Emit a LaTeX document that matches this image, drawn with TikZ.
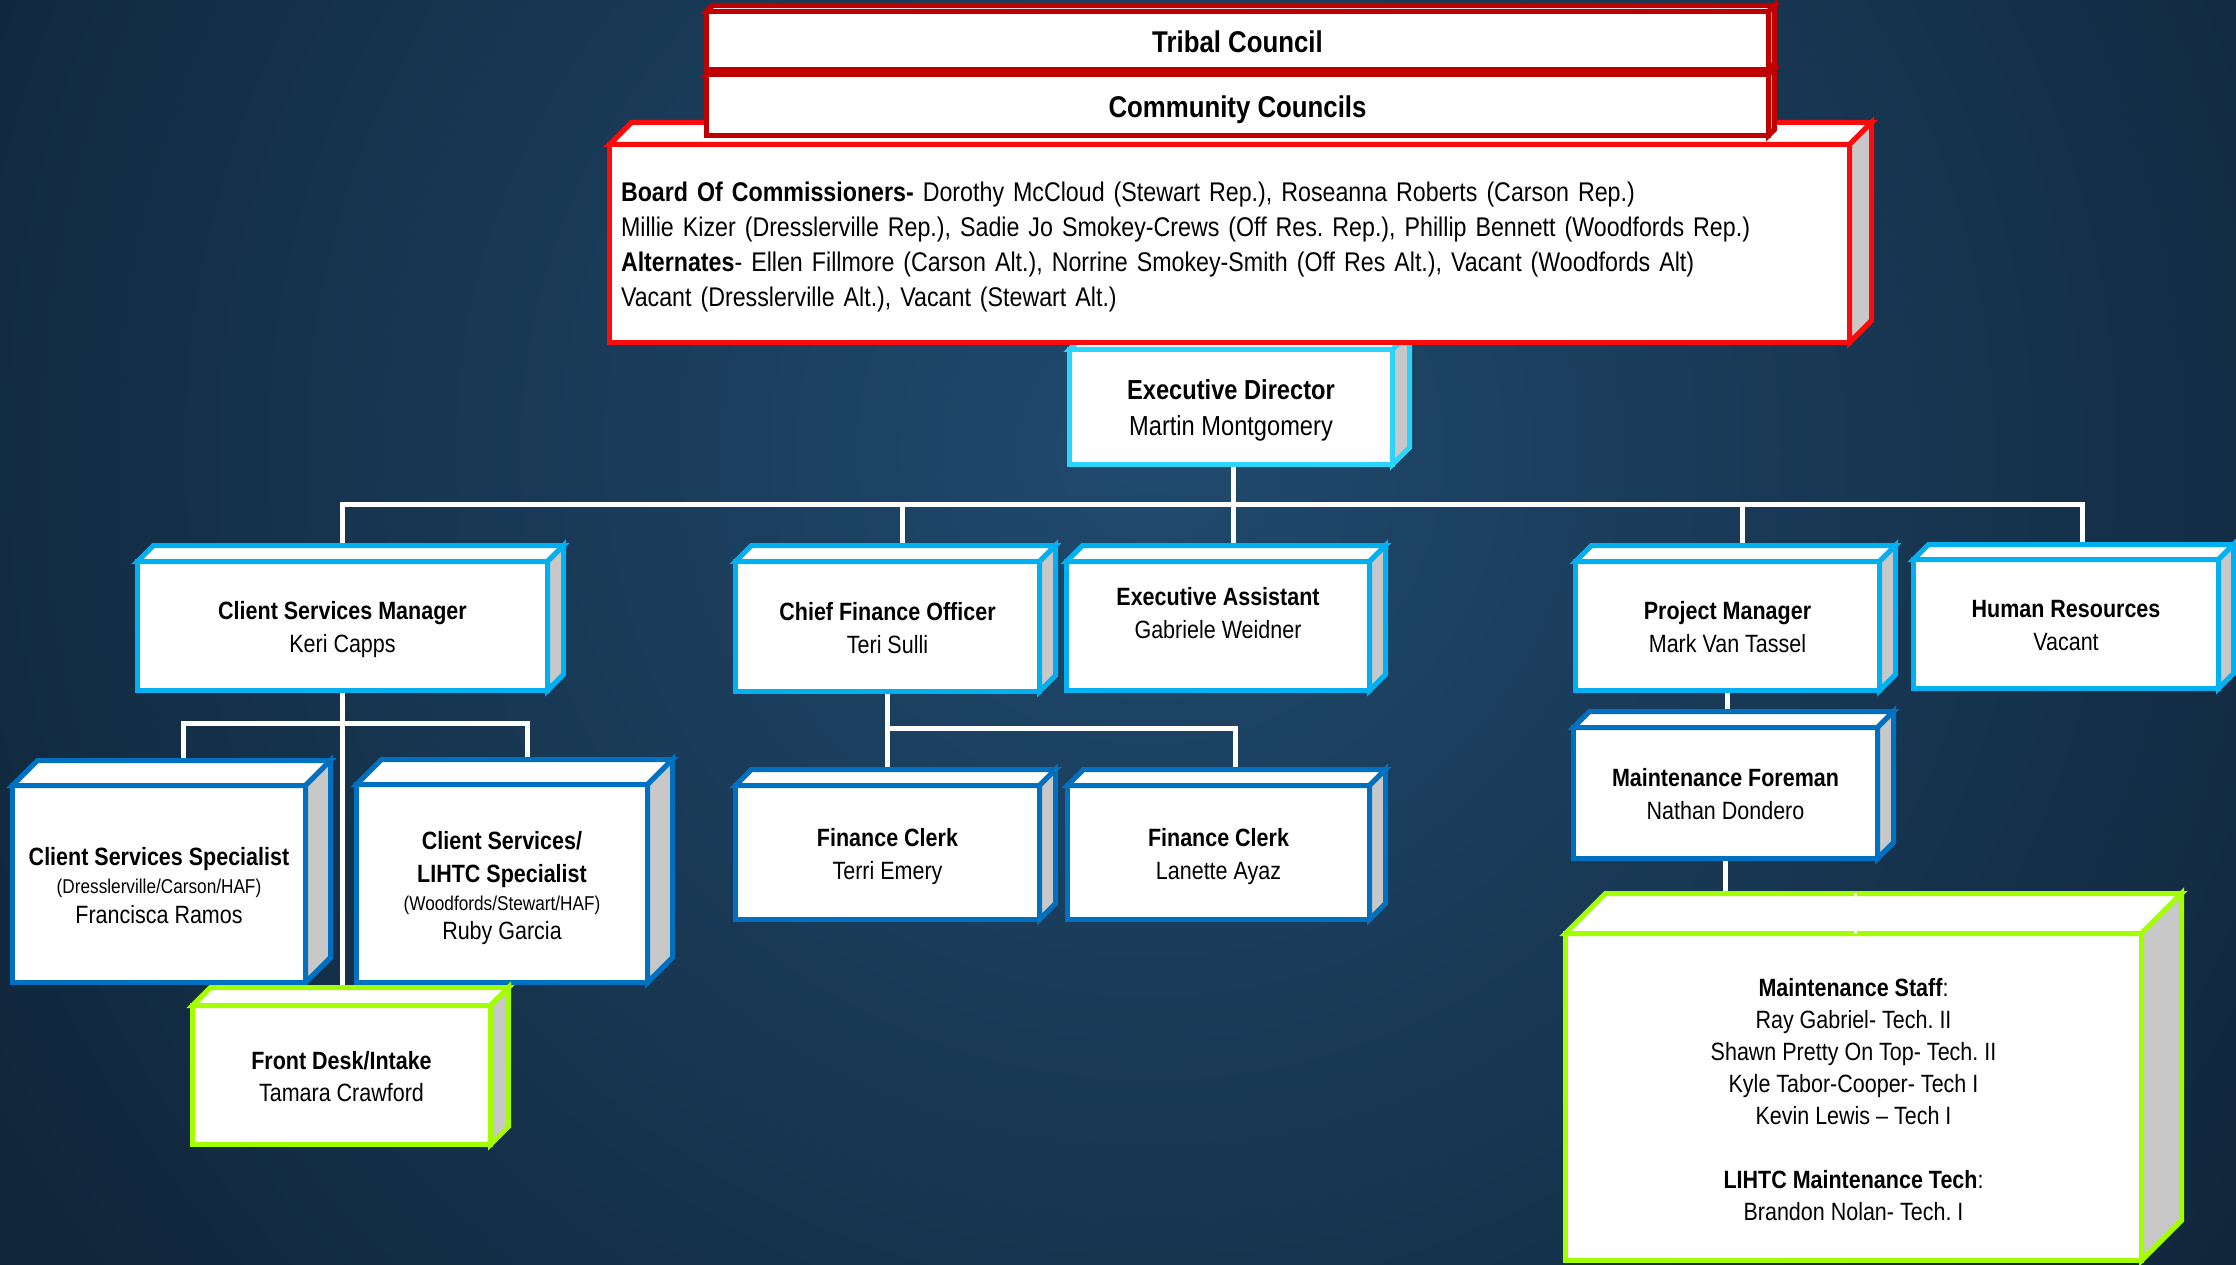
\documentclass[tikz,border=0pt]{standalone}
\usepackage{fontspec}
\setmainfont{Liberation Sans}[FakeStretch=0.86]
\usetikzlibrary{calc}
\definecolor{ltcyan}{RGB}{45,212,250}
\definecolor{cyb}{RGB}{0,176,240}
\definecolor{dkb}{RGB}{0,112,192}
\definecolor{limeg}{RGB}{163,255,0}
\definecolor{redb}{RGB}{250,12,12}
\definecolor{dkred}{RGB}{192,0,0}
\definecolor{sidegray}{RGB}{200,200,200}
\definecolor{bgin}{RGB}{32,74,110}
\definecolor{bgout}{RGB}{7,18,30}
\pgfdeclarelayer{bg}
\pgfdeclarelayer{lines}
\pgfsetlayers{bg,lines,main}
\tikzset{
  cubefront/.style={draw=#1, fill=white, line width=5pt, inner sep=0pt, outer sep=0pt,
    align=center, text=black, font=\fontsize{25}{33}\selectfont},
  cubetop/.style={draw=#1, fill=white, line width=5pt},
  cubeside/.style={draw=#1, fill=sidegray, line width=5pt},
  link/.style={draw=white, line width=5pt},
  oneline/.style={text height=24.5pt, text depth=0pt, font=\fontsize{30}{36}\selectfont\bfseries},
}
\newcommand\tstrut[1]{\rule{0pt}{#1pt}}
% #1 colour, #2 name, #3 x1, #4 y1, #5 x2, #6 y2, #7 depth, #8 extra options, #9 text
\newcommand\orgcube[9]{%
  \node[cubefront=#1, minimum width=#5pt-#3pt-5pt, minimum height=#6pt-#4pt-5pt, #8]
    (#2) at ({(#3+#5)/2},{(#4+#6)/2}) {#9};
  \filldraw[cubetop=#1] (#2.north west) -- ++(#7,-#7) -- ($(#2.north east)+(#7,-#7)$) -- (#2.north east) -- cycle;
  \filldraw[cubeside=#1] (#2.north east) -- ++(#7,-#7) -- ($(#2.south east)+(#7,-#7)$) -- (#2.south east) -- cycle;
}
\begin{document}
\frenchspacing
\begin{tikzpicture}[x=1pt,y=-1pt]
\useasboundingbox (0,0) rectangle (2236,1265);
\begin{pgfonlayer}{bg}
  \begin{scope}
    \clip (0,0) rectangle (2236,1265);
    \shade[inner color=bgin, outer color=bgout] (1150,450) circle (2100);
  \end{scope}
\end{pgfonlayer}

% executive level
\orgcube{ltcyan}{ed}{1067}{347}{1395}{467}{17}{font=\fontsize{27.5}{35.5}\selectfont}{\tstrut{27}\textbf{Executive Director}\\Martin Montgomery}
\orgcube{redb}{board}{607}{142}{1852}{345}{22}{font=\fontsize{27}{35}\selectfont, align=left, text width=1217pt, inner xsep=11.5pt}{%
\tstrut{27}\textbf{Board Of Commissioners-} Dorothy McCloud (Stewart Rep.), Roseanna Roberts (Carson Rep.)\\
Millie Kizer (Dresslerville Rep.), Sadie Jo Smokey-Crews (Off Res. Rep.), Phillip Bennett (Woodfords Rep.)\\
\textbf{Alternates}- Ellen Fillmore (Carson Alt.), Norrine Smokey-Smith (Off Res Alt.), Vacant (Woodfords Alt)\\
Vacant (Dresslerville Alt.), Vacant (Stewart Alt.)}
\orgcube{dkred}{cc}{704}{72}{1771}{138}{6}{oneline}{Community Councils}
\orgcube{dkred}{tribal}{704}{9}{1771}{72}{6}{oneline}{Tribal Council}

% second level
\orgcube{cyb}{csm}{135}{559}{550}{693}{16}{}{\tstrut{26}\textbf{Client Services Manager}\\Keri Capps}
\orgcube{cyb}{cfo}{733}{559}{1042}{694}{16}{}{\tstrut{22}\textbf{Chief Finance Officer}\\Teri Sulli}
\orgcube{cyb}{ea}{1064}{559}{1372}{693}{16}{}{\textbf{Executive Assistant}\\Gabriele Weidner\\[-7pt]\mbox{}}
\orgcube{cyb}{pm}{1573}{559}{1882}{693}{16}{}{\tstrut{21}\textbf{Project Manager}\\Mark Van Tassel}
\orgcube{cyb}{hr}{1911}{557}{2221}{691}{15}{}{\tstrut{21}\textbf{Human Resources}\\Vacant}

% third level
\orgcube{dkb}{css}{10}{783}{308}{985}{25}{}{\tstrut{21}\textbf{Client Services Specialist}\\[-5pt]{\fontsize{20}{24}\selectfont (Dresslerville/Carson/HAF)}\\[-3pt]Francisca Ramos}
\orgcube{dkb}{lihtc}{354}{782}{650}{985}{25}{}{\tstrut{27}\textbf{Client Services/}\\\textbf{LIHTC Specialist}\\[-4.5pt]{\fontsize{20}{24}\selectfont (Woodfords/Stewart/HAF)}\\[-4.5pt]Ruby Garcia}
\orgcube{limeg}{fd}{190}{1003}{493}{1147}{18}{}{\tstrut{21}\textbf{Front Desk/Intake}\\[-1pt]Tamara Crawford}
\orgcube{dkb}{fc1}{733}{783}{1042}{922}{16}{}{\tstrut{27}\textbf{Finance Clerk}\\Terri Emery}
\orgcube{dkb}{fc2}{1065}{783}{1372}{922}{16}{}{\tstrut{27}\textbf{Finance Clerk}\\Lanette Ayaz}
\orgcube{dkb}{mf}{1571}{725}{1880}{861}{16}{}{\tstrut{20}\textbf{Maintenance Foreman}\\Nathan Dondero}
\orgcube{limeg}{staff}{1563}{931}{2144}{1263}{40}{font=\fontsize{25}{32}\selectfont}{%
\tstrut{24}\textbf{Maintenance Staff}:\\Ray Gabriel- Tech. II\\Shawn Pretty On Top- Tech. II\\Kyle Tabor-Cooper- Tech I\\Kevin Lewis – Tech I\\[32pt]\textbf{LIHTC Maintenance Tech}:\\Brandon Nolan- Tech. I}
\draw[draw=white, line width=3pt] ([xshift=2pt]staff.north) -- ++(0,-41);

% connectors
\coordinate (bus) at (1233,504);
\coordinate (csbr) at (342.5,723);
\coordinate (cfbr) at (887.5,728);
\coordinate (edbot) at ([xshift=2pt]ed.south);
\coordinate (cfotop) at ([xshift=15pt]cfo.north);
\coordinate (eatop) at ([xshift=15pt]ea.north);
\coordinate (pmtop) at ([xshift=15pt]pm.north);
\coordinate (hrtop) at ([xshift=16pt]hr.north);
\coordinate (csstop) at ([xshift=24pt]css.north);
\coordinate (lihtctop) at ([xshift=25pt]lihtc.north);
\coordinate (fc2top) at ([xshift=17pt]fc2.north);
\begin{pgfonlayer}{lines}
  \draw[link] (edbot) -- (edbot |- bus);
  \draw[link] (csm.north) -- (csm.north |- bus) -- (hrtop |- bus) -- (hrtop);
  \draw[link] (cfotop) -- (cfotop |- bus);
  \draw[link] (eatop) -- (eatop |- bus);
  \draw[link] (pmtop) -- (pmtop |- bus);
  \draw[link] (csm.south) -- (csm.south |- fd.north);
  \draw[link] (csstop) |- (csbr) -| (lihtctop);
  \draw[link] (cfo.south) -- (fc1.north);
  \draw[link] (cfbr) -| (fc2top);
  \draw[link] (pm.south) -- (pm.south |- mf.north);
  \draw[link] (mf.south) -- (mf.south |- staff.north);
\end{pgfonlayer}
\end{tikzpicture}
\end{document}
